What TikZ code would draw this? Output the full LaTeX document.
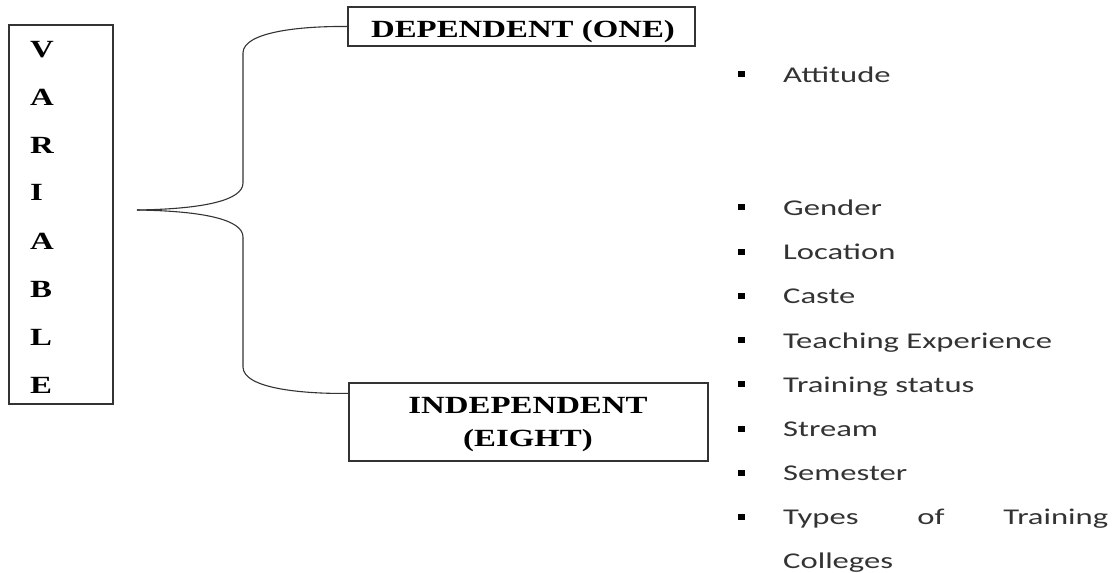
\documentclass[tikz,border=0pt]{standalone}
\usepackage{fontspec}
\newfontfamily\tnrfont[FakeStretch=1.33]{Liberation Serif}
\newfontfamily\calfont[FakeStretch=1.45]{Carlito}
\begin{document}
\begin{tikzpicture}[x=1pt,y=-1pt,
  boxline/.style={draw=black!80,line width=1.2pt},
  headtxt/.style={font=\tnrfont\bfseries\fontsize{24.7}{33}\selectfont,inner sep=0pt,anchor=base},
  lettertxt/.style={font=\tnrfont\bfseries\fontsize{24.7}{30}\selectfont,inner sep=0pt,anchor=base west},
  itemtxt/.style={font=\calfont\fontsize{22.5}{27}\selectfont,text=black!80,inner sep=0pt,anchor=base west},
  bulletsq/.style={fill=black,minimum width=7pt,minimum height=6pt,inner sep=0pt},
  bracel/.style={draw=black!80,line width=1.1pt}]
\useasboundingbox (0,0) rectangle (1114,573);
\fill[white] (0,0) rectangle (1114,573);
% VARIABLE box
\node[boxline,minimum width=104pt,minimum height=379pt,inner sep=0pt] (var) at (61,214.5) {};
\foreach \l/\y [count=\i] in {V/57,A/105,R/153,I/200.5,A/249,B/297,L/345,E/393}
  \node[lettertxt] (l\i) at (30,\y) {\l};
% dependent / independent boxes
\node[boxline,minimum width=347pt,minimum height=39pt,inner sep=0pt] (dep) at (521.5,26.5) {};
\node[headtxt] (deptxt) at (523,37.3) {DEPENDENT (ONE)};
\node[boxline,minimum width=359pt,minimum height=78pt,inner sep=0pt] (ind) at (528.5,422) {};
\node[headtxt] (indtxt1) at (528,413) {INDEPENDENT};
\node[headtxt] (indtxt2) at (528,446) {(EIGHT)};
% brace
\coordinate (tip) at (137,210);
\coordinate (indjoin) at ([yshift=-11pt]ind.north west);
\draw[bracel] (tip) .. controls (205,209) and (243,200) .. (243,183)
  -- (243,53) .. controls (243,32) and (300,26) .. (dep.west);
\draw[bracel] (tip) .. controls (205,211) and (243,220) .. (243,237)
  -- (243,367) .. controls (243,388) and (300,394) .. (indjoin);
% items
\foreach \t/\y [count=\i] in {Attitude/82,Gender/215,Location/259.5,Caste/303.8,Teaching Experience/348,Training status/392.3,Stream/436.5,Semester/480.5}{
  \node[itemtxt] (it\i) at (783,\y) {\t};
  \node[bulletsq] (b\i) at (741,\y-8) {};
}
\node[itemtxt] (it9) at (783,524.5) {\makebox[325pt][s]{Types of Training}};
\node[bulletsq] (b9) at (741,516.5) {};
\node[itemtxt] (it10) at (783,568.5) {Colleges};
\end{tikzpicture}
\end{document}
